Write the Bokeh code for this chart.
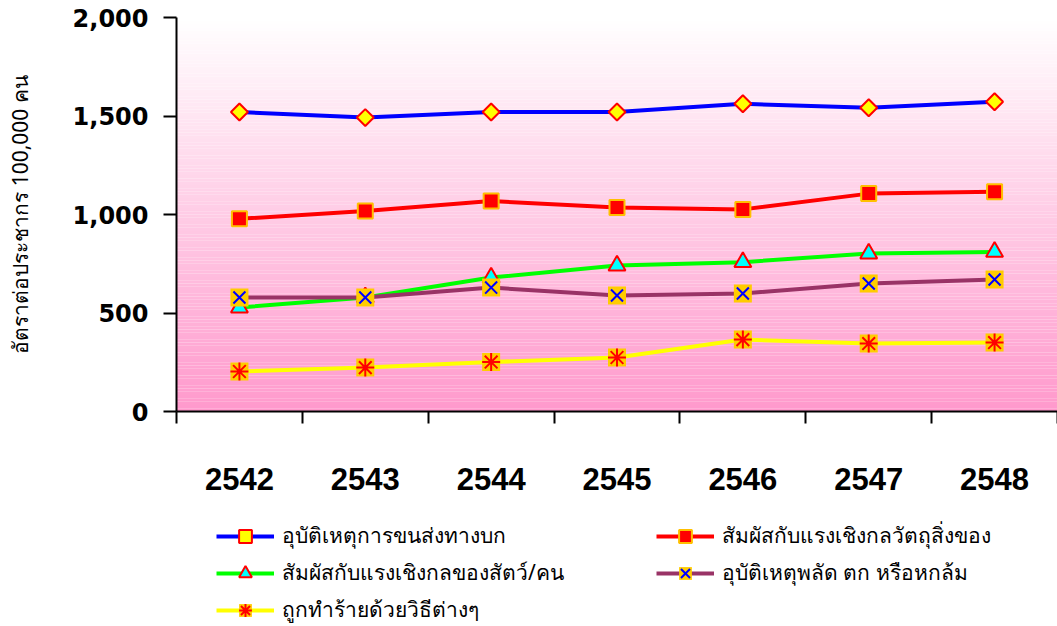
import math
from bokeh.plotting import figure
from bokeh.layouts import column
from bokeh.models import (Range1d, LinearAxis, FixedTicker,
                          NumeralTickFormatter, Legend, LegendItem, ColumnDataSource)
from bokeh.embed import file_html
from bokeh.resources import INLINE

years = ["2542", "2543", "2544", "2545", "2546", "2547", "2548"]
transport = [1520, 1492, 1520, 1520, 1562, 1542, 1572]
inanimate = [978, 1018, 1068, 1036, 1026, 1106, 1116]
animate = [528, 579, 680, 741, 758, 802, 810]
falls = [579, 579, 629, 589, 599, 650, 670]
assault = [203, 223, 251, 274, 365, 345, 350]

names = ["อุบัติเหตุการขนส่งทางบก", "สัมผัสกับแรงเชิงกลวัตถุสิ่งของ",
         "สัมผัสกับแรงเชิงกลของสัตว์/คน", "อุบัติเหตุพลัด ตก หรือหกล้ม",
         "ถูกทำร้ายด้วยวิธีต่างๆ"]
y_ticks = [0, 500, 1000, 1500, 2000]
y_title = "อัตราต่อประชากร 100,000 คน"

n = len(years)
xc = [i + 0.5 for i in range(n)]  # category centres
edges = list(range(n + 1))

W = 1057
H1, H2 = 503, 123
p = figure(width=W, height=H1, x_range=Range1d(0, n),
           y_range=Range1d(0, 2000), output_backend="svg", toolbar_location=None,
           x_axis_location=None, y_axis_location=None, min_border_left=176, min_border_right=0,
           min_border_top=17, min_border_bottom=92, outline_line_color=None)
p.background_fill_color = "white"
p.border_fill_color = "white"
p.grid.visible = False

# gradient background (white -> pink)
nb = 120
tops, bots, cols = [], [], []
for i in range(nb):
    b = 2000 * i / nb
    t = 2000 * (i + 1) / nb
    f = (i + 0.5) / nb  # 0 bottom -> 1 top
    g = int(round(153 + (255 - 153) * f))
    bl = int(round(204 + (255 - 204) * f))
    tops.append(t); bots.append(b); cols.append("#%02x%02x%02x" % (255, g, bl))
p.quad(left=0, right=n, bottom=bots, top=tops, fill_color=cols, line_color=None)

# edge-tick axis (category boundaries)
ax_edges = LinearAxis(ticker=FixedTicker(ticks=edges),
                      major_label_overrides={e: "" for e in edges}, major_label_standoff=0,
                      major_tick_out=12, major_tick_in=0, minor_tick_line_color=None,
                      axis_line_color="black", axis_line_width=2, major_tick_line_width=2,
                      major_tick_line_color="black")
p.add_layout(ax_edges, "below")
ax_cat = LinearAxis(ticker=FixedTicker(ticks=xc),
                    major_label_overrides={x: y for x, y in zip(xc, years)},
                    axis_line_color=None, major_tick_line_color=None, minor_tick_line_color=None,
                    major_tick_out=0, major_tick_in=0,
                    major_label_standoff=44,
                    major_label_text_font="Liberation Sans",
                    major_label_text_font_style="bold",
                    major_label_text_font_size="31px",
                    major_label_text_color="black")
p.add_layout(ax_cat, "below")

ax_y = LinearAxis(ticker=FixedTicker(ticks=y_ticks), formatter=NumeralTickFormatter(format="0,0"),
                  major_tick_out=13, major_tick_in=0, minor_tick_line_color=None,
                  axis_line_width=2, major_tick_line_width=2, major_label_standoff=15,
                  axis_line_color="black", major_tick_line_color="black",
                  major_label_text_font="DejaVu Sans", major_label_text_font_style="bold",
                  major_label_text_font_size="24px", major_label_text_color="black",
                  axis_label=y_title, axis_label_text_color="black",
                  axis_label_text_font="Noto Sans", axis_label_text_font_style="normal",
                  axis_label_text_font_size="21px", axis_label_standoff=36)
p.add_layout(ax_y, "left")


def draw_series(fig, src):
    r = []
    l1 = fig.line("x", "a", source=src, line_color="#0000FF", line_width=4)
    m1 = fig.scatter("x", "a", source=src, marker="square", size=12, angle=math.pi / 4,
                     fill_color="#FFFF00", line_color="#FF0000", line_width=2)
    r.append([l1, m1])
    l2 = fig.line("x", "b", source=src, line_color="#FF0000", line_width=4)
    m2 = fig.scatter("x", "b", source=src, marker="square", size=15, fill_color="#FF0000",
                     line_color="#FFC000", line_width=2)
    r.append([l2, m2])
    l3 = fig.line("x", "c", source=src, line_color="#00FF00", line_width=4)
    m3 = fig.scatter("x", "c", source=src, marker="triangle", size=17, fill_color="#00FFFF",
                     line_color="#FF0000", line_width=2)
    r.append([l3, m3])
    l4 = fig.line("x", "d", source=src, line_color="#993366", line_width=4)
    m4a = fig.scatter("x", "d", source=src, marker="square", size=18, fill_color="#FFCC00",
                      line_color=None)
    m4b = fig.scatter("x", "d", source=src, marker="x", size=17, line_color="#0000FF",
                      line_width=2)
    r.append([l4, m4a, m4b])
    l5 = fig.line("x", "e", source=src, line_color="#FFFF00", line_width=4)
    m5a = fig.scatter("x", "e", source=src, marker="square", size=18, fill_color="#FFCC00",
                      line_color=None)
    m5b = fig.scatter("x", "e", source=src, marker="asterisk", size=18, line_color="#FF0000",
                      line_width=2)
    r.append([l5, m5a, m5b])
    return r


src = ColumnDataSource(dict(x=xc, a=transport, b=inanimate, c=animate, d=falls, e=assault))
draw_series(p, src)

# legend figure: same series as proxies, kept out of its (empty) visible range
pl = figure(width=W, height=H2, x_range=Range1d(0, n), y_range=Range1d(3000, 4000),
            output_backend="svg", toolbar_location=None, x_axis_location=None,
            y_axis_location=None, min_border=0, outline_line_color=None)
pl.grid.visible = False
pl.background_fill_color = "white"
pl.border_fill_color = "white"
rends = draw_series(pl, src)
items = [LegendItem(label=nm, renderers=rr) for nm, rr in zip(names, rends)]
legend = Legend(items=items, ncols=2, orientation="horizontal", location=(40, 0),
                glyph_width=58, glyph_height=32, label_standoff=8, spacing=4,
                label_width=370, label_height=32,
                label_text_font="Noto Sans", label_text_font_size="21px",
                label_text_color="black",
                padding=0, margin=0, border_line_color=None,
                background_fill_alpha=0)
pl.add_layout(legend, "center")

open("out.html", "w").write(file_html(column(p, pl, spacing=0), INLINE))
